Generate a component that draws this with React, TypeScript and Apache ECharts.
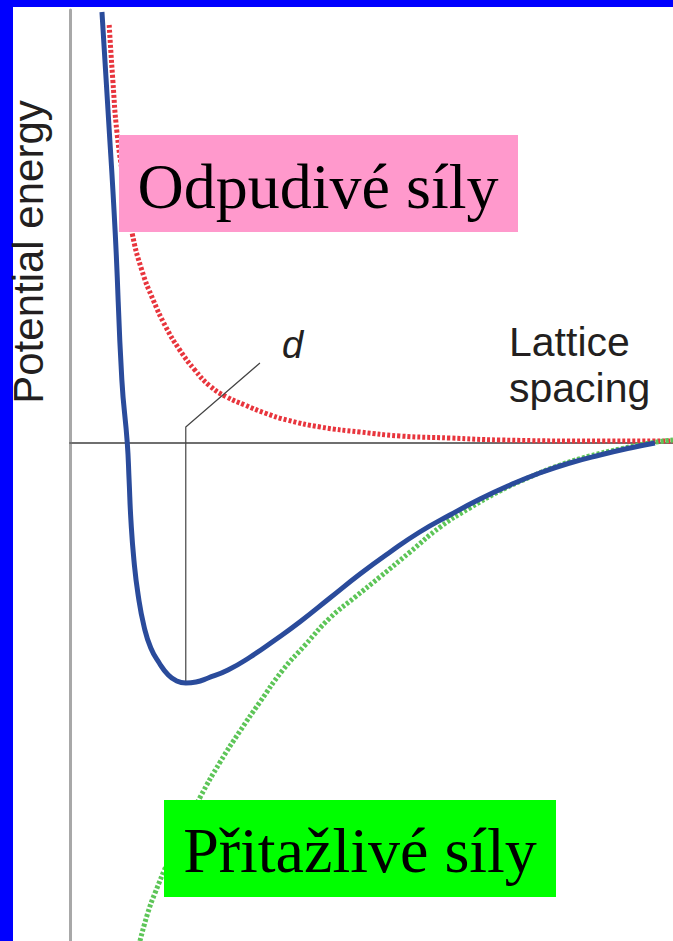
import React, { useEffect, useRef } from "react";
import * as echarts from "echarts";

// Lattice spacing (arbitrary units) and potential energy (arbitrary units)
const totalX = [0.53, 0.63, 0.75, 0.86, 0.95, 0.98, 1.01, 1.06, 1.13, 1.23, 1.34, 1.48, 1.63, 1.77, 1.92, 2.09, 2.29, 2.62, 2.99, 3.4, 3.81, 4.31, 4.81, 5.31, 5.8, 6.3, 6.8, 7.3, 7.79, 8.29, 8.79, 9.29, 9.7];
const totalY = [8.62, 6.66, 4.2, 1.26, 0, -0.74, -1.54, -2.34, -3.04, -3.68, -4.1, -4.4, -4.64, -4.76, -4.8, -4.78, -4.7, -4.54, -4.28, -3.94, -3.58, -3.1, -2.62, -2.18, -1.78, -1.44, -1.12, -0.84, -0.6, -0.4, -0.24, -0.1, 0];

const repulsiveX = [0.65, 0.71, 0.78, 0.9, 1.03, 1.19, 1.38, 1.59, 1.82, 2.07, 2.32, 2.6, 2.9, 3.23, 3.6, 4.15, 4.81, 5.47, 6.3, 7.13, 8.79, 10.0];
const repulsiveY = [8.36, 7.26, 6.2, 5.16, 4.2, 3.46, 2.86, 2.32, 1.86, 1.46, 1.14, 0.92, 0.76, 0.6, 0.46, 0.32, 0.22, 0.14, 0.1, 0.06, 0.04, 0.04];

const attractiveX = [1.16, 1.29, 1.41, 1.64, 1.91, 2.16, 2.49, 2.82, 3.15, 3.53, 3.9, 4.31, 4.73, 5.14, 5.64, 6.14, 6.63, 7.13, 7.63, 8.13, 8.62, 9.12, 9.62, 10.0];
const attractiveY = [-9.96, -9.4, -9.0, -8.34, -7.68, -7.08, -6.38, -5.76, -5.18, -4.54, -4.04, -3.5, -3.08, -2.68, -2.18, -1.68, -1.3, -0.96, -0.68, -0.44, -0.26, -0.12, 0, 0.06];

// d marker: from the minimum up, then a leader line to the label
const dMarkerX = [1.92, 1.92, 3.15];
const dMarkerY = [-4.8, 0.32, 1.6];

const yAxisTitle = "Potential energy";
const xAxisTitleLines = ["Lattice", "spacing"];
const dLabel = "d";
const repulsiveLabel = "Odpudivé síly";
const attractiveLabel = "Přitažlivé síly";

const zip = (xs: number[], ys: number[]) => xs.map((x, i) => [x, ys[i]]);

export default function App() {
  const ref = useRef<HTMLDivElement>(null);
  useEffect(() => {
    if (!ref.current) return;
    const chart = echarts.init(ref.current, null, { renderer: "svg" });
    const sans = "Arial, 'Liberation Sans', sans-serif";
    const serif = "'Times New Roman', 'Liberation Serif', serif";
    chart.setOption({
      animation: false,
      backgroundColor: "#ffffff",
      grid: { left: 70, right: 0, top: 10, bottom: 0, containLabel: false },
      xAxis: {
        type: "value",
        min: 0,
        max: 10,
        axisLine: { show: true, onZero: true, lineStyle: { color: "#6f6f6f", width: 2 } },
        axisTick: { show: false },
        axisLabel: { show: false },
        splitLine: { show: false },
      },
      yAxis: {
        type: "value",
        min: -9.96,
        max: 8.66,
        axisLine: { show: true, onZero: false, lineStyle: { color: "#a8a8a8", width: 3 } },
        axisTick: { show: false },
        axisLabel: { show: false },
        splitLine: { show: false },
      },
      series: [
        {
          type: "line",
          name: "Repulsive",
          data: zip(repulsiveX, repulsiveY),
          smooth: 0.5,
          showSymbol: false,
          lineStyle: { color: "#e8353d", width: 5, type: [3, 2] },
          z: 2,
        },
        {
          type: "line",
          name: "Attractive",
          data: zip(attractiveX, attractiveY),
          smooth: 0.5,
          showSymbol: false,
          lineStyle: { color: "#5dc558", width: 5, type: [3, 2] },
          z: 2,
        },
        {
          type: "line",
          name: "d",
          data: zip(dMarkerX, dMarkerY),
          smooth: false,
          showSymbol: false,
          lineStyle: { color: "#444444", width: 1.2 },
          z: 3,
        },
        {
          type: "line",
          name: "Total",
          data: zip(totalX, totalY),
          smooth: 0.5,
          showSymbol: false,
          lineStyle: { color: "#2a4b9b", width: 5 },
          z: 4,
        },
      ],
      graphic: [
        { type: "rect", z: 100, shape: { x: 0, y: 0, width: 13, height: 941 }, style: { fill: "#0000ff" } },
        { type: "rect", z: 100, shape: { x: 0, y: 0, width: 673, height: 7 }, style: { fill: "#0000ff" } },
        {
          type: "text",
          z: 100,
          x: 28,
          y: 252,
          rotation: Math.PI / 2,
          style: { text: yAxisTitle, font: `42px ${sans}`, fill: "#231f20", textAlign: "center", textVerticalAlign: "middle" },
        },
        {
          type: "text",
          z: 100,
          x: 509,
          y: 342,
          style: { text: xAxisTitleLines[0], font: `41px ${sans}`, fill: "#231f20", textAlign: "left", textVerticalAlign: "middle" },
        },
        {
          type: "text",
          z: 100,
          x: 509,
          y: 388,
          style: { text: xAxisTitleLines[1], font: `41px ${sans}`, fill: "#231f20", textAlign: "left", textVerticalAlign: "middle" },
        },
        {
          type: "text",
          z: 100,
          x: 282,
          y: 345,
          style: { text: dLabel, font: `italic 38px ${sans}`, fill: "#231f20", textAlign: "left", textVerticalAlign: "middle" },
        },
        { type: "rect", z: 100, shape: { x: 119, y: 135, width: 399, height: 97 }, style: { fill: "#ff99cc" } },
        {
          type: "text",
          z: 101,
          x: 318,
          y: 186,
          style: { text: repulsiveLabel, font: `64px ${serif}`, fill: "#000000", textAlign: "center", textVerticalAlign: "middle" },
        },
        { type: "rect", z: 100, shape: { x: 164, y: 800, width: 392, height: 97 }, style: { fill: "#00ff00" } },
        {
          type: "text",
          z: 101,
          x: 360,
          y: 850,
          style: { text: attractiveLabel, font: `64px ${serif}`, fill: "#000000", textAlign: "center", textVerticalAlign: "middle" },
        },
      ],
    });
    return () => chart.dispose();
  }, []);
  return (
    <div
      ref={ref}
      style={{ position: "absolute", left: 0, top: 0, width: 673, height: 941 }}
    />
  );
}
